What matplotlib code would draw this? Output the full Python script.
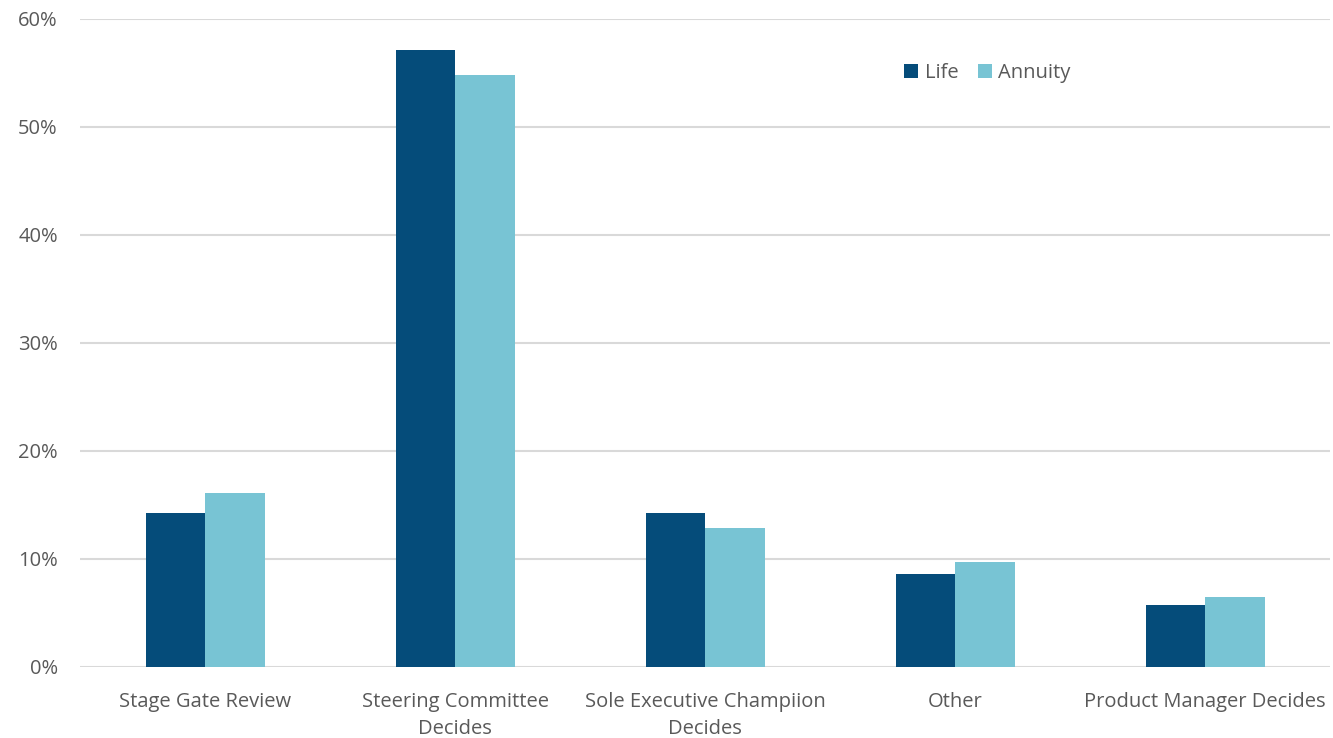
import matplotlib
matplotlib.use("Agg")
import matplotlib.pyplot as plt
from matplotlib.ticker import PercentFormatter
import numpy as np

categories = ["Stage Gate Review", "Steering Committee\nDecides",
              "Sole Executive Champiion\nDecides", "Other", "Product Manager Decides"]
life = [14.3, 57.1, 14.3, 8.6, 5.7]
annuity = [16.1, 54.8, 12.9, 9.7, 6.5]

plt.rcParams['font.family'] = ['Open Sans', 'DejaVu Sans']

fig = plt.figure(figsize=(13.33, 7.38), dpi=100)
ax = fig.add_axes([80 / 1333, 1 - 667 / 738, 1250 / 1333, (667 - 19) / 738])

x = np.arange(len(categories))
w = 0.238
ax.bar(x - w / 2, life, w, color="#054C7A", label="Life", zorder=3)
ax.bar(x + w / 2, annuity, w, color="#78C4D4", label="Annuity", zorder=3)

ax.set_xlim(-0.5, len(categories) - 0.5)
ax.set_ylim(0, 60)
ax.set_yticks(range(0, 61, 10))
ax.yaxis.set_major_formatter(PercentFormatter(decimals=0))
ax.grid(axis="y", color="#D9D9D9", linewidth=1.5, zorder=0)
for s in ax.spines.values():
    s.set_visible(False)
ax.tick_params(length=0, colors="#595959", labelsize=14.5)
ax.tick_params(axis="y", pad=16)
ax.tick_params(axis="x", pad=18)
ax.set_xticks(x)
ax.set_xticklabels(categories, linespacing=1.45)

ax.legend(loc="upper left", bbox_to_anchor=(0.645, 0.96), ncol=2, frameon=False,
          fontsize=14.5, labelcolor="#595959", handlelength=0.7, handleheight=0.7,
          handletextpad=0.3, columnspacing=1.0)

fig.savefig("out.png", dpi=100)
